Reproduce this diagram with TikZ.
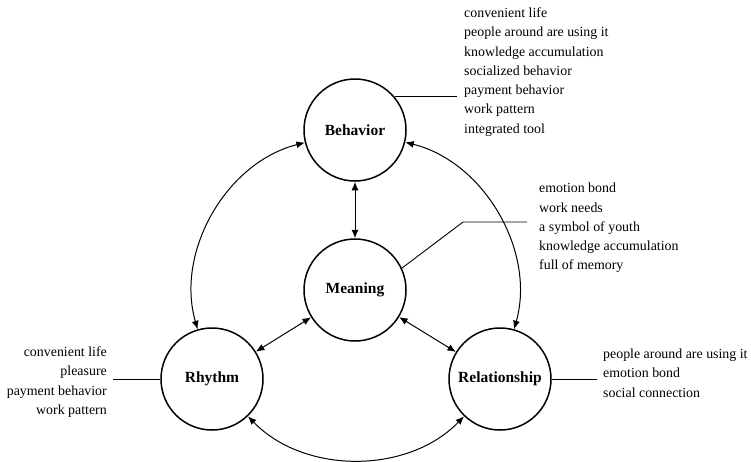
\documentclass[tikz,border=0pt]{standalone}
\usepackage{fontspec}
\setmainfont{Liberation Serif}
\usetikzlibrary{math}
\usetikzlibrary{arrows.meta,positioning}

\begin{document}
\begin{tikzpicture}[x=1pt,y=-1pt]

\tikzmath{
	\D = 102pt;
}

\tikzset{theme/.style={
    circle,
    draw,
    line width=1.5pt,
    minimum size=#1,
    inner sep=0pt,
    font=\fontsize{15.5}{18}\selectfont\bfseries
  },
  theme/.default=\D,
  items/.style={
    align=left,
    inner sep=0pt,
    font=\fontsize{13.9}{19.3}\selectfont
  },
  link/.style={line width=1pt, {Latex[length=8.5pt,width=7pt]}-{Latex[length=8.5pt,width=7pt]}},
  lead/.style={line width=0.9pt}
}

\useasboundingbox (0,0) rectangle (751,461);

% four themes
\node[theme] (bhv) at (355,130) {Behavior};
\node[theme] (mng) at (355,290) {Meaning};
\node[theme] (rhy) at (212,379) {Rhythm};
\node[theme] (rel) at (500,379) {Relationship};

% item lists
\node[items, anchor=west] (bhvlist) at (464,72) {convenient life\\
people around are using it\\
knowledge accumulation\\
socialized behavior\\
payment behavior\\
work pattern\\
integrated tool};
\node[items, anchor=west] (mnglist) at (539,228) {emotion bond\\
work needs\\
a symbol of youth\\
knowledge accumulation\\
full of memory};
\node[items, align=right, anchor=east] (rhylist) at (107,382) {convenient life\\
pleasure\\
payment behavior\\
work pattern};
\node[items, anchor=west] (rellist) at (603,373) {people around are using it\\
emotion bond\\
social connection};

% leader lines
\coordinate (bhvend) at (457,97);
\coordinate (mngbend) at (463,222);
\coordinate (mngend) at (527,222);
\coordinate (rhyend) at (113,378);
\coordinate (relend) at (597,378);

\draw[lead] (bhv.40) -- (bhv.40 -| bhvend);
\draw[lead] (mng.25) -- (mngbend) -- (mngend);
\draw[lead] (rhy.west) -- (rhy.west -| rhyend);
\draw[lead] (rel.east) -- (rel.east -| relend);

% arrows
\draw[link] (bhv) -- (mng);
\draw[link] (mng) -- (rhy);
\draw[link] (mng) -- (rel);
\draw[link] (rhy) to[bend left=46, looseness=0.96] (bhv);
\draw[link] (bhv) to[bend left=46, looseness=0.96] (rel);
\draw[link] (rel) to[bend left=46, looseness=0.96] (rhy);

\end{tikzpicture}
\end{document}
